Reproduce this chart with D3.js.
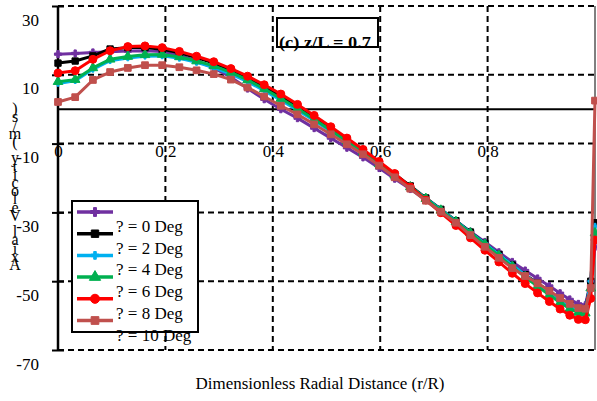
<!DOCTYPE html>
<html>
<head>
<meta charset="utf-8">
<script src="https://cdn.jsdelivr.net/npm/d3@7"></script>
<style>
    body { margin: 0; background: #fff; }
    #chart-area { width: 597px; height: 401px; }
    svg text { font-family: "Liberation Serif", "DejaVu Serif", serif; fill: #000; }
</style>
</head>
<body>
<div id="chart-area"></div>
<script>

// dimensionless radial distance (r/R)
const radialPos = [0, 0.032, 0.065, 0.097, 0.13, 0.162, 0.194, 0.226, 0.258, 0.29,
    0.322, 0.353, 0.384, 0.415, 0.446, 0.477, 0.508, 0.538, 0.568, 0.598,
    0.627, 0.656, 0.685, 0.713, 0.741, 0.768, 0.795, 0.821, 0.846, 0.87,
    0.893, 0.915, 0.935, 0.953, 0.969, 0.982, 0.992, 1.0];

// axial velocity (m/s) per swirl angle
const vel0Deg = [16.0, 16.2, 16.5, 16.7, 16.9, 17.0, 16.8, 15.6, 14.0, 12.0,
    9.3, 6.0, 2.9, 0.0, -2.6, -5.5, -8.4, -11.2, -14.0, -17.1,
    -20.2, -23.2, -26.4, -29.5, -32.6, -35.6, -38.6, -41.6, -44.4, -46.9,
    -49.2, -51.4, -53.5, -55.3, -56.6, -57.0, -50.0, -40.0];

const vel2Deg = [13.4, 14.0, 15.5, 17.5, 17.9, 17.9, 17.4, 16.4, 15.0, 13.4,
    11.4, 9.1, 6.5, 3.7, 0.8, -2.3, -5.5, -8.7, -12.0, -15.5,
    -18.9, -22.3, -25.8, -29.1, -32.4, -35.7, -39.0, -42.2, -45.3, -48.1,
    -50.6, -53.0, -55.1, -56.8, -57.9, -58.1, -50.0, -33.0];

const vel4Deg = [7.5, 8.3, 11.6, 14.1, 14.9, 15.4, 15.5, 14.8, 13.6, 12.1,
    10.2, 8.0, 5.4, 2.6, -0.3, -3.3, -6.4, -9.5, -12.7, -16.0,
    -19.3, -22.6, -25.9, -29.2, -32.5, -35.8, -39.0, -42.2, -45.3, -48.2,
    -50.9, -53.3, -55.5, -57.2, -58.3, -58.5, -50.0, -34.0];

const vel6Deg = [8.0, 8.6, 12.0, 14.5, 15.3, 15.8, 15.9, 15.2, 14.0, 12.6,
    10.7, 8.5, 5.9, 3.1, 0.2, -2.9, -6.1, -9.3, -12.5, -15.9,
    -19.2, -22.6, -26.0, -29.4, -32.7, -36.0, -39.3, -42.6, -45.8, -48.8,
    -51.5, -54.0, -56.2, -58.0, -59.1, -59.3, -52.0, -36.0];

const vel8Deg = [10.5, 11.2, 14.5, 17.0, 18.2, 18.4, 17.9, 16.8, 15.4, 13.8,
    11.8, 9.6, 7.1, 4.4, 1.4, -1.8, -5.1, -8.4, -11.7, -15.2,
    -18.7, -22.6, -26.4, -30.1, -33.8, -37.4, -41.0, -44.4, -47.7, -50.7,
    -53.4, -55.9, -58.1, -59.9, -61.1, -61.2, -55.0, -38.0];

const vel10Deg = [2.1, 3.5, 8.5, 10.8, 12.0, 12.8, 12.8, 12.2, 11.3, 10.2,
    8.6, 6.3, 3.7, 1.0, -1.5, -4.4, -7.3, -10.2, -13.1, -16.4,
    -19.8, -23.1, -26.6, -29.8, -33.0, -36.6, -40.0, -43.2, -46.2, -48.5,
    -50.6, -52.8, -54.9, -56.6, -57.8, -58.0, -52.0, 2.5];

const seriesLabels = ["? = 0 Deg", "? = 2 Deg", "? = 4 Deg", "? = 6 Deg", "? = 8 Deg", "? = 10 Deg"];
const seriesValues = [vel0Deg, vel2Deg, vel4Deg, vel6Deg, vel8Deg, vel10Deg];

const yTickValues = [30, 10, -10, -30, -50, -70];
const xTickValues = [0, 0.2, 0.4, 0.6, 0.8];
const xGridValues = [0.2, 0.4, 0.6, 0.8, 1.0];

const chartTitle = "(c) z/L = 0.7";
const xTitle = "Dimensionless Radial Distance (r/R)";
const yTitle = "Axial Velocity (m/s)";

// look of each series (kept apart from the data)
const seriesColors = ["#7030a0", "#000000", "#00b0f0", "#00b050", "#ff0000", "#c0504d"];
const seriesSymbols = [d3.symbolCross, d3.symbolSquare, d3.symbolCross, d3.symbolTriangle, d3.symbolCircle, d3.symbolSquare];
const seriesSymbolSizes = [28, 40, 18, 40, 50, 45];

const serif = "Liberation Serif";


class VelocityChart {

    constructor(_parentElement, _labels, _values) {
        this.parentElement = _parentElement;
        this.labels = _labels;
        this.values = _values;

        this.initVis();
    }

    initVis() {
        let vis = this;

        vis.margin = { top: 6, right: 2, bottom: 51, left: 58 };
        vis.width = 597 - vis.margin.left - vis.margin.right;
        vis.height = 401 - vis.margin.top - vis.margin.bottom;

        vis.svgRoot = d3.select("#" + vis.parentElement).append("svg")
            .attr("width", 597)
            .attr("height", 401);

        vis.svgRoot.append("rect")
            .attr("width", 597)
            .attr("height", 401)
            .attr("fill", "#fff");

        vis.svg = vis.svgRoot.append("g")
            .attr("transform", "translate(" + vis.margin.left + "," + vis.margin.top + ")");

        vis.x = d3.scaleLinear()
            .domain([0, 1])
            .range([0, vis.width]);

        vis.y = d3.scaleLinear()
            .domain([-70, 30])
            .range([vis.height, 0]);

        // x tick labels sit under the zero line
        vis.xAxis = d3.axisBottom(vis.x)
            .tickValues(xTickValues)
            .tickSize(0)
            .tickFormat(d => d === 0 ? "0" : d3.format(".1f")(d));

        let xg = vis.svg.append("g")
            .attr("class", "x-axis")
            .attr("transform", "translate(0," + vis.y(0) + ")")
            .attr("font-family", serif)
            .call(vis.xAxis);
        xg.select(".domain").remove();
        xg.selectAll("text")
            .attr("y", 48)
            .attr("dy", 0)
            .style("font-size", "17px")
            .style("font-family", serif);

        // dashed grid
        vis.svg.append("g")
            .attr("class", "h-grid")
            .selectAll("line")
            .data(yTickValues)
            .enter()
            .append("line")
            .attr("x1", 0)
            .attr("x2", vis.width)
            .attr("y1", d => vis.y(d))
            .attr("y2", d => vis.y(d))
            .attr("stroke", "#000")
            .attr("stroke-width", 2)
            .attr("stroke-dasharray", "6,4");

        vis.svg.append("g")
            .attr("class", "v-grid")
            .selectAll("line")
            .data(xGridValues)
            .enter()
            .append("line")
            .attr("x1", d => vis.x(d))
            .attr("x2", d => vis.x(d))
            .attr("y1", 0)
            .attr("y2", vis.height)
            .attr("stroke", "#000")
            .attr("stroke-width", d => d === 1 ? 1 : 2)
            .attr("stroke-dasharray", d => d === 1 ? null : "6,4");

        // zero line
        vis.svg.append("line")
            .attr("x1", 0)
            .attr("x2", vis.width)
            .attr("y1", vis.y(0))
            .attr("y2", vis.y(0))
            .attr("stroke", "#000")
            .attr("stroke-width", 2);

        // y axis, plain hyphen for negatives
        vis.yAxis = d3.axisLeft(vis.y)
            .tickValues(yTickValues)
            .tickSize(6)
            .tickPadding(13)
            .tickFormat(d => String(d));

        let yg = vis.svg.append("g")
            .attr("class", "y-axis")
            .attr("font-family", serif)
            .call(vis.yAxis);
        yg.select(".domain").remove();
        yg.selectAll(".tick line")
            .attr("x1", -6)
            .attr("x2", 6)
            .attr("stroke-width", 2);
        yg.selectAll(".tick text")
            .attr("y", 19)
            .attr("dy", 0)
            .style("font-size", "17px")
            .style("font-family", serif);

        vis.svg.append("line")
            .attr("x1", 0)
            .attr("x2", 0)
            .attr("y1", 0)
            .attr("y2", vis.height)
            .attr("stroke", "#000")
            .attr("stroke-width", 2.5);

        // series
        vis.line = d3.line()
            .x((d, i) => vis.x(radialPos[i]))
            .y(d => vis.y(d));

        vis.seriesG = vis.svg.selectAll(".series")
            .data(vis.values)
            .enter()
            .append("g")
            .attr("class", "series");

        vis.seriesG.append("path")
            .attr("d", d => vis.line(d))
            .attr("fill", "none")
            .attr("stroke", (d, i) => seriesColors[i])
            .attr("stroke-width", 3)
            .attr("stroke-linejoin", "round");

        vis.seriesG.each(function (vals, s) {
            d3.select(this).selectAll(".marker")
                .data(vals)
                .enter()
                .append("path")
                .attr("class", "marker")
                .attr("d", d3.symbol().type(seriesSymbols[s]).size(seriesSymbolSizes[s]))
                .attr("transform", (d, i) => "translate(" + vis.x(radialPos[i]) + "," + vis.y(d) + ")")
                .attr("fill", seriesColors[s])
                .attr("stroke", seriesColors[s])
                .attr("stroke-width", 1);
        });

        // title box
        vis.svgRoot.append("rect")
            .attr("x", 277)
            .attr("y", 18)
            .attr("width", 101)
            .attr("height", 29)
            .attr("fill", "#fff")
            .attr("stroke", "#000")
            .attr("stroke-width", 2);

        vis.svgRoot.append("text")
            .attr("x", 279)
            .attr("y", 48)
            .attr("textLength", 92)
            .attr("lengthAdjust", "spacingAndGlyphs")
            .style("font-size", "16px")
            .style("font-weight", "bold")
            .style("font-family", serif)
            .text(chartTitle);

        vis.drawLegend();

        // axis titles
        vis.svgRoot.append("text")
            .attr("x", 320)
            .attr("y", 389)
            .attr("text-anchor", "middle")
            .attr("textLength", 249)
            .attr("lengthAdjust", "spacingAndGlyphs")
            .style("font-size", "16px")
            .style("font-family", serif)
            .text(xTitle);

        // the y title is rendered as a stack of characters, bottom up
        let chars = yTitle.split("");
        vis.svgRoot.append("text")
            .attr("class", "y-title")
            .style("font-size", "16px")
            .style("font-family", serif)
            .selectAll("tspan")
            .data(chars)
            .enter()
            .append("tspan")
            .attr("x", 15)
            .attr("y", (d, i) => 270 - i * 8.2)
            .attr("text-anchor", "middle")
            .text(d => d);
    }

    drawLegend() {
        let vis = this;

        let lg = vis.svgRoot.append("g")
            .attr("class", "legend");

        lg.append("rect")
            .attr("x", 72)
            .attr("y", 201)
            .attr("width", 126)
            .attr("height", 131)
            .attr("fill", "#fff")
            .attr("stroke", "#000")
            .attr("stroke-width", 2);

        let items = lg.selectAll(".legend-item")
            .data(vis.labels)
            .enter()
            .append("g")
            .attr("class", "legend-item")
            .attr("transform", (d, i) => "translate(0," + (212 + i * 21.7) + ")");

        items.append("line")
            .attr("x1", 77)
            .attr("x2", 113)
            .attr("stroke", (d, i) => seriesColors[i])
            .attr("stroke-width", 3.5);

        items.append("path")
            .attr("d", (d, i) => d3.symbol().type(seriesSymbols[i]).size(seriesSymbolSizes[i] + 15)())
            .attr("transform", "translate(95,0)")
            .attr("fill", (d, i) => seriesColors[i])
            .attr("stroke", (d, i) => seriesColors[i]);

        items.append("text")
            .attr("x", 116)
            .attr("y", 20)
            .style("font-size", "17px")
            .style("font-family", serif)
            .text(d => d);
    }
}

new VelocityChart("chart-area", seriesLabels, seriesValues);

</script>
</body>
</html>
